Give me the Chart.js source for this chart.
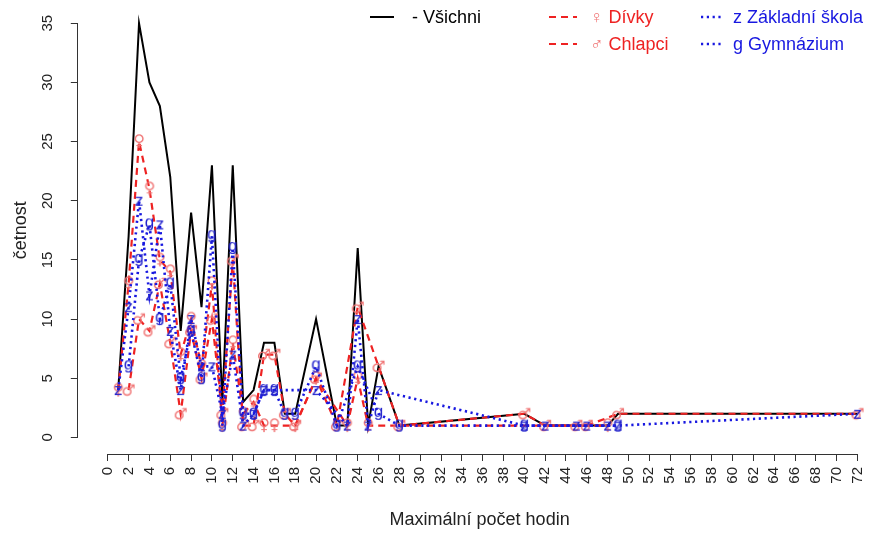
<!DOCTYPE html>
<html>
<head>
<meta charset="utf-8">
<script src="https://cdn.jsdelivr.net/npm/chart.js@4/dist/chart.umd.min.js"></script>
<style>
  html, body { margin: 0; padding: 0; background: #ffffff; overflow: hidden; }
  canvas { display: block; }
</style>
</head>
<body>
<canvas id="chart" width="888" height="534"></canvas>
<script>
// Maximum number of hours (categories on the x axis)
const hours = [1,2,3,4,5,6,7,8,9,10,11,12,13,14,15,16,17,18,20,22,23,24,25,26,28,40,42,45,46,48,49,72];

// Counts per group; null = nobody in that group gave this value
const vsichni   = [4,17,35,30,28,22,9,19,11,23,3,23,3,4,8,8,2,2,10,1,1,16,1,6,1,2,1,1,1,1,2,2];
const divky     = [4,13,25,21,15,14,7,10,6,13,1,8,2,3,1,1,null,1,5,null,1,5,1,null,null,null,null,null,null,1,null,null];
const chlapci   = [null,4,10,9,13,8,2,9,5,10,2,15,1,1,7,7,2,1,5,1,null,11,null,6,1,2,1,1,1,null,2,2];
const zakladni  = [4,11,20,12,18,9,4,10,6,6,2,7,1,2,4,4,null,null,4,null,1,10,1,4,null,1,1,1,1,1,1,2];
const gymnazium = [null,6,15,18,10,13,5,9,5,17,1,16,2,2,4,4,2,2,6,1,null,6,null,2,1,1,null,null,null,null,1,null];

// Axis tick labels
const xTicks = [0,2,4,6,8,10,12,14,16,18,20,22,24,26,28,30,32,34,36,38,40,42,44,46,48,50,52,54,56,58,60,62,64,66,68,70,72];
const yTicks = [0,5,10,15,20,25,30,35];

const FONT = '"Liberation Sans", Arial, Helvetica, sans-serif';
const SYM_FONT = '"DejaVu Sans", sans-serif';
const BLACK = '#000000';
const RED = '#ee2222';
const RED_MARK = '#f07474';
const BLUE = '#1818e0';
const BLUE_MARK = '#2424cc';

// A character used as the point marker, centred on its ink box
function glyph(ch, color, size, family) {
  const c = document.createElement('canvas');
  c.width = Math.ceil(size * 1.2);
  c.height = Math.ceil(size * 1.4);
  const g = c.getContext('2d');
  g.font = size + 'px ' + family;
  g.fillStyle = color;
  g.textAlign = 'center';
  g.textBaseline = 'alphabetic';
  const m = g.measureText(ch);
  const asc = m.actualBoundingBoxAscent, desc = m.actualBoundingBoxDescent;
  g.fillText(ch, c.width / 2, c.height / 2 + (asc - desc) / 2);
  return c;
}

function points(values) {
  return hours.map((h, i) => ({ x: h, y: values[i] }));
}

function series(label, symbol, values, color, symColor, dash, width, marker, order) {
  return {
    label,
    symbol,
    symColor,
    data: points(values),
    borderColor: color,
    borderWidth: width,
    borderDash: dash,
    spanGaps: true,
    tension: 0,
    fill: false,
    pointStyle: marker || false,
    pointRadius: marker ? 4 : 0,
    order
  };
}

const datasets = [
  series('Všichni', '-', vsichni, BLACK, BLACK, [], 2, null, 5),
  series('Dívky', '♀', divky, RED, RED_MARK, [7, 5], 2.2, glyph('♀', RED_MARK, 16, SYM_FONT), 4),
  series('Chlapci', '♂', chlapci, RED, RED_MARK, [7, 5], 2.2, glyph('♂', RED_MARK, 16, SYM_FONT), 3),
  series('Základní škola', 'z', zakladni, BLUE, BLUE, [2.2, 3.6], 2.6, glyph('z', BLUE_MARK, 17, FONT), 2),
  series('Gymnázium', 'g', gymnazium, BLUE, BLUE, [2.2, 3.6], 2.6, glyph('g', BLUE_MARK, 17, FONT), 1)
];

// Axis lines running only between the first and the last tick
const axisLines = {
  id: 'axisLines',
  afterDraw(chart) {
    const { ctx, chartArea, scales: { x, y } } = chart;
    ctx.save();
    ctx.strokeStyle = '#333333';
    ctx.lineWidth = 1;
    ctx.beginPath();
    const yb = Math.round(chartArea.bottom) + 0.5;
    ctx.moveTo(x.getPixelForValue(xTicks[0]), yb);
    ctx.lineTo(x.getPixelForValue(xTicks[xTicks.length - 1]), yb);
    const xl = Math.round(chartArea.left) - 0.5;
    ctx.moveTo(xl, y.getPixelForValue(yTicks[0]));
    ctx.lineTo(xl, y.getPixelForValue(yTicks[yTicks.length - 1]));
    ctx.stroke();
    ctx.restore();
  }
};

// Legend: three columns, line sample followed by symbol and label text
const legendLayout = [
  { ds: 0, x: 370, len: 24, tx: 412, y: 17 },
  { ds: 1, x: 549, len: 28, tx: 590, y: 17 },
  { ds: 2, x: 549, len: 28, tx: 590, y: 44 },
  { ds: 3, x: 701, len: 23, tx: 733, y: 17 },
  { ds: 4, x: 701, len: 23, tx: 733, y: 44 }
];
const freeLegend = {
  id: 'freeLegend',
  afterDraw(chart) {
    const ctx = chart.ctx;
    ctx.save();
    ctx.textBaseline = 'middle';
    ctx.textAlign = 'left';
    legendLayout.forEach(item => {
      const ds = chart.data.datasets[item.ds];
      ctx.strokeStyle = ds.borderColor;
      ctx.lineWidth = ds.borderWidth;
      ctx.setLineDash(ds.borderDash || []);
      ctx.beginPath();
      ctx.moveTo(item.x, item.y);
      ctx.lineTo(item.x + item.len, item.y);
      ctx.stroke();
      ctx.setLineDash([]);
      ctx.font = '18px ' + FONT;
      const sym = ds.symbol + ' ';
      ctx.fillStyle = ds.symColor;
      ctx.fillText(sym, item.tx, item.y + 1);
      const w = ctx.measureText(sym).width;
      ctx.fillStyle = ds.borderColor;
      ctx.fillText(ds.label, item.tx + w, item.y + 1);
    });
    ctx.restore();
  }
};

new Chart(document.getElementById('chart'), {
  type: 'line',
  data: { datasets },
  options: {
    responsive: false,
    animation: false,
    devicePixelRatio: 1,
    layout: { padding: 0 },
    plugins: { legend: { display: false }, tooltip: { enabled: false } },
    scales: {
      x: {
        type: 'linear',
        min: -2.88,
        max: 74.29,
        afterBuildTicks: s => { s.ticks = xTicks.map(v => ({ value: v })); },
        afterFit: s => { s.height = 80; s.paddingLeft = 0; s.paddingRight = 0; },
        grid: { drawOnChartArea: false, drawTicks: true, tickLength: 7, color: '#333333', lineWidth: 1 },
        border: { display: false },
        ticks: {
          autoSkip: false, minRotation: 90, maxRotation: 90, padding: 6,
          font: { size: 15, family: FONT }, color: '#222222'
        },
        title: {
          display: true, text: 'Maximální počet hodin', color: '#222222',
          font: { size: 18, family: FONT }, padding: { top: 0, bottom: 3 }
        }
      },
      y: {
        type: 'linear',
        min: -1.4,
        max: 36.4,
        afterBuildTicks: s => { s.ticks = yTicks.map(v => ({ value: v })); },
        afterFit: s => { s.width = 77.8; s.paddingTop = 0; s.paddingBottom = 0; },
        grid: { drawOnChartArea: false, drawTicks: true, tickLength: 7, color: '#333333', lineWidth: 1 },
        border: { display: false },
        ticks: {
          minRotation: 90, maxRotation: 90, crossAlign: 'center', padding: 15,
          font: { size: 15, family: FONT }, color: '#222222'
        },
        title: {
          display: true, text: 'četnost', color: '#222222',
          font: { size: 18, family: FONT }, padding: { top: 10, bottom: 0 }
        }
      }
    }
  },
  plugins: [axisLines, freeLegend]
});
</script>
</body>
</html>
